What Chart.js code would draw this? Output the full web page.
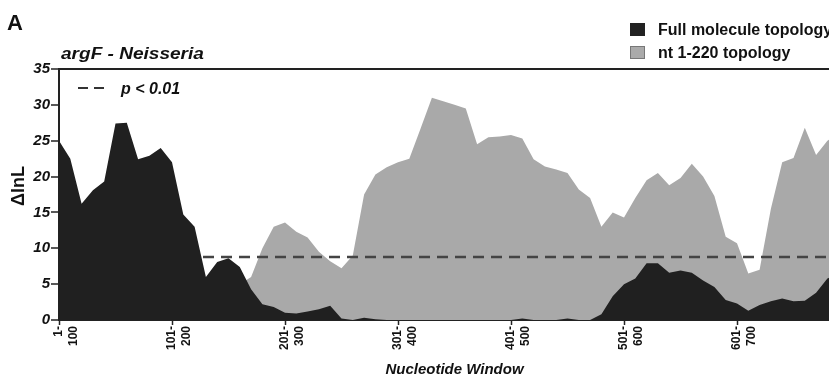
<!DOCTYPE html>
<html>
<head>
<meta charset="utf-8">
<script src="https://cdn.jsdelivr.net/npm/chart.js@4.4.0/dist/chart.umd.min.js"></script>
<style>
  html, body { margin: 0; padding: 0; background: #fff; overflow: hidden; }
  #wrap { width: 856px; height: 381px; }
</style>
</head>
<body>
<div id="wrap"><canvas id="chartArgF"></canvas></div>
<script>
// sliding windows of 100 nt, step 10 nt
const windowStep = 10;
const windowSize = 100;

// x-axis tick labels (every 10th window)
const tickLabels = ['1-100', '101-200', '201-300', '301-400', '401-500', '501-600', '601-700'];

// dlnL, full molecule topology (dark)
const fullMolecule = [
  25.0, 22.5, 16.2, 18.1, 19.3, 27.4, 27.5, 22.4, 22.9, 24.0,
  22.0, 14.7, 13.0, 6.0, 8.1, 8.6, 7.4, 4.3, 2.2, 1.8,
  1.0, 0.9, 1.2, 1.5, 2.0, 0.2, 0.0, 0.3, 0.1, 0.0,
  0.0, 0.0, 0.0, 0.0, 0.0, 0.0, 0.0, 0.0, 0.0, 0.0,
  0.0, 0.2, 0.0, 0.0, 0.0, 0.2, 0.0, 0.0, 0.8, 3.3,
  5.0, 5.8, 7.9, 7.9, 6.6, 6.9, 6.6, 5.5, 4.6, 2.8,
  2.3, 1.3, 2.1, 2.6, 3.0, 2.6, 2.7, 3.8, 5.8, 6.5,
  7.0
];

// dlnL, nt 1-220 topology (light)
const nt1to220 = [
  4.0, 4.0, 4.0, 4.0, 4.0, 4.0, 4.0, 4.0, 4.0, 4.0,
  4.0, 4.0, 4.0, 4.0, 4.0, 4.0, 5.0, 6.0, 10.0, 13.0,
  13.6, 12.3, 11.5, 9.5, 8.2, 7.2, 9.0, 17.5, 20.3, 21.3,
  22.0, 22.5, 26.7, 31.0, 30.5, 30.0, 29.5, 24.5, 25.5, 25.6,
  25.8, 25.3, 22.4, 21.4, 21.0, 20.5, 18.2, 17.0, 13.0, 15.0,
  14.3, 17.0, 19.5, 20.5, 18.8, 19.8, 21.8, 20.0, 17.3, 11.6,
  10.7, 6.5, 7.0, 15.5, 22.0, 22.6, 26.8, 23.0, 25.0, 26.0,
  26.0
];

// significance level p < 0.01
const pThreshold = 8.8;

const windows = fullMolecule.map((_, i) => (i * windowStep + 1) + '-' + (i * windowStep + windowSize));

// extra text: panel letter, title, legends, y title
const annotations = {
  id: 'annotations',
  afterDraw(chart) {
    const ctx = chart.ctx;
    const area = chart.chartArea;
    ctx.save();
    ctx.fillStyle = '#111';
    ctx.textBaseline = 'alphabetic';

    ctx.font = 'bold 22px "Liberation Sans", Arial, sans-serif';
    ctx.fillText('A', 7, 30);

    ctx.save();
    ctx.font = 'bold italic 16px "Liberation Sans", Arial, sans-serif';
    ctx.translate(area.left + 2, 59);
    ctx.scale(1.19, 1);
    ctx.fillText('argF - Neisseria', 0, 0);
    ctx.restore();

    // y axis title
    ctx.save();
    ctx.font = 'bold 18px "Liberation Sans", Arial, sans-serif';
    ctx.translate(24, 186);
    ctx.rotate(-Math.PI / 2);
    ctx.textAlign = 'center';
    ctx.fillText('ΔlnL', 0, 0);
    ctx.restore();

    // p < 0.01 key
    ctx.strokeStyle = '#333';
    ctx.lineWidth = 2;
    ctx.setLineDash([10, 6]);
    ctx.beginPath();
    ctx.moveTo(78, 88);
    ctx.lineTo(110, 88);
    ctx.stroke();
    ctx.setLineDash([]);
    ctx.font = 'bold italic 16px "Liberation Sans", Arial, sans-serif';
    ctx.fillText('p < 0.01', 121, 94);

    // legend
    ctx.fillStyle = '#222';
    ctx.fillRect(630, 23, 15, 13);
    ctx.fillStyle = '#aaa';
    ctx.fillRect(630, 46, 15, 13);
    ctx.strokeStyle = '#777';
    ctx.lineWidth = 1;
    ctx.strokeRect(630.5, 46.5, 14, 12);
    ctx.fillStyle = '#111';
    ctx.font = 'bold 16px "Liberation Sans", Arial, sans-serif';
    ctx.fillText('Full molecule topology', 658, 35);
    ctx.fillText('nt 1-220 topology', 658, 58);
    ctx.restore();
  }
};

const ctxArgF = document.getElementById('chartArgF').getContext('2d');
new Chart(ctxArgF, {
  type: 'line',
  data: {
    labels: windows,
    datasets: [
      {
        label: 'Full molecule topology',
        data: fullMolecule,
        backgroundColor: '#202020',
        borderWidth: 0,
        pointRadius: 0,
        fill: 'origin',
        order: 1
      },
      {
        label: 'p < 0.01',
        data: windows.map(() => pThreshold),
        borderColor: '#444444',
        borderWidth: 2.5,
        borderDash: [11, 7],
        pointRadius: 0,
        fill: false,
        order: 2
      },
      {
        label: 'nt 1-220 topology',
        data: nt1to220,
        backgroundColor: '#a9a9a9',
        borderWidth: 0,
        pointRadius: 0,
        fill: 'origin',
        order: 3
      }
    ]
  },
  options: {
    responsive: true,
    maintainAspectRatio: false,
    animation: false,
    devicePixelRatio: 1,
    layout: { padding: { top: 69, right: 6, left: 0, bottom: 0 } },
    plugins: {
      legend: { display: false },
      tooltip: { enabled: false }
    },
    scales: {
      x: {
        offset: false,
        afterFit: scale => { scale.height = 61; },
        grid: { drawOnChartArea: false, tickLength: 5, tickColor: '#222', tickWidth: 1.5 },
        border: { color: '#222', width: 2 },
        ticks: {
          autoSkip: false,
          maxRotation: 90,
          minRotation: 90,
          padding: 1,
          color: '#111',
          font: { family: '"Liberation Sans", Arial, sans-serif', size: 12, weight: 'bold' },
          callback: (value, index) => {
            if (index % 10 !== 0) return null;
            const lbl = tickLabels[index / 10];
            if (!lbl) return null;
            const cut = lbl.indexOf('-') + 1;
            return [lbl.slice(0, cut), lbl.slice(cut)];
          }
        },
        title: {
          display: true,
          text: 'Nucleotide Window',
          color: '#111',
          padding: { top: 0, bottom: 2 },
          font: { family: '"Liberation Sans", Arial, sans-serif', size: 15, weight: 'bold', style: 'italic' }
        }
      },
      y: {
        min: 0,
        max: 35,
        afterFit: scale => { scale.width = 59; },
        grid: {
          color: ctx => ctx.tick && ctx.tick.value === 35 ? '#222' : 'transparent',
          lineWidth: 2,
          tickColor: '#222',
          tickWidth: 1.5,
          tickLength: 8
        },
        border: { color: '#222', width: 2 },
        ticks: {
          stepSize: 5,
          padding: 1,
          color: '#111',
          font: { family: '"Liberation Sans", Arial, sans-serif', size: 15, weight: 'bold', style: 'italic' }
        }
      }
    }
  },
  plugins: [annotations]
});
</script>
</body>
</html>
